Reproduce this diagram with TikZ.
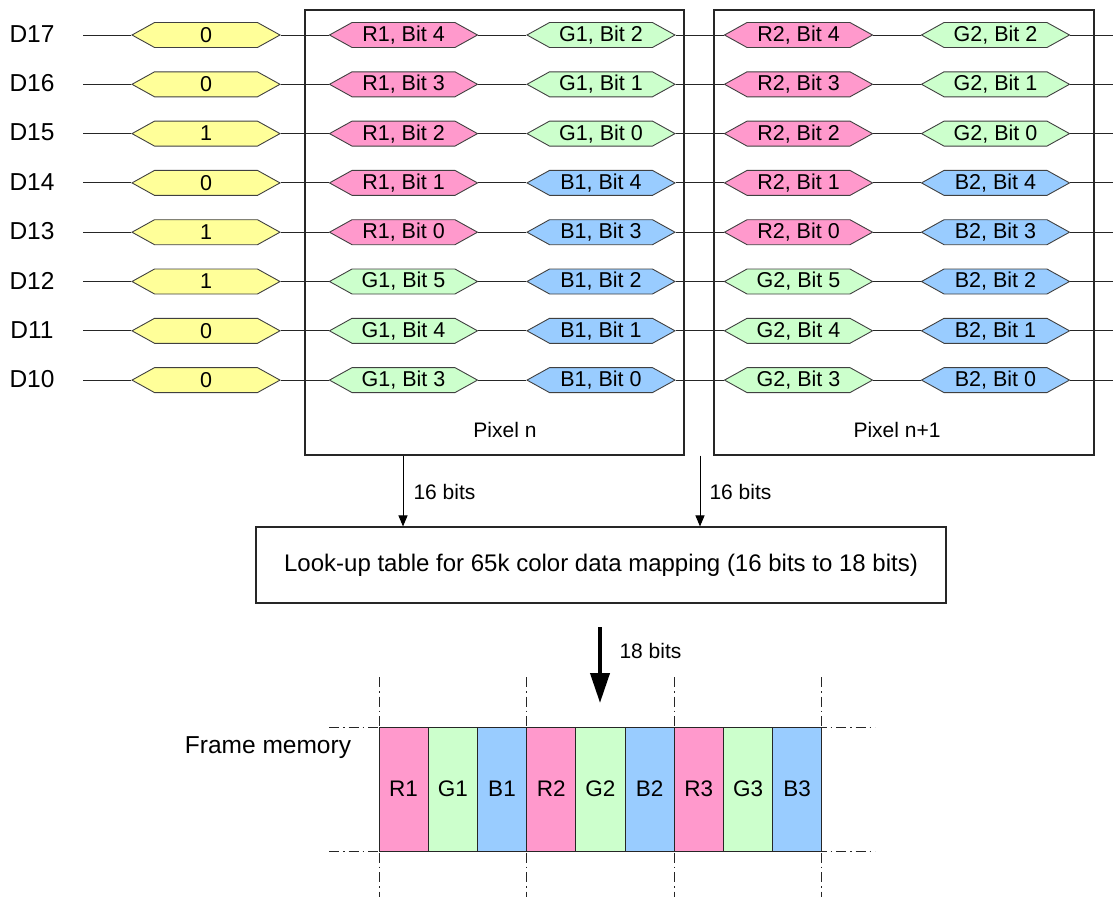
\documentclass[tikz,border=0pt]{standalone}
\usepackage{fontspec}
\setmainfont{Liberation Sans}
\usetikzlibrary{shapes.symbols,arrows.meta}
\definecolor{cy}{HTML}{FFFF99}
\definecolor{cp}{HTML}{FF99CC}
\definecolor{cg}{HTML}{CCFFCC}
\definecolor{cb}{HTML}{99CCFF}
\begin{document}
\begin{tikzpicture}[x=1pt,y=-1pt,
  hexbox/.style={signal, signal to=west and east, signal pointer angle=58,
    draw=black!75, line width=0.9pt, minimum width=148pt, minimum height=25pt,
    inner sep=0pt, font=\fontsize{21.5}{24}\selectfont},
  wire/.style={line width=1pt, draw=black!85},
  frame/.style={draw=black!85, line width=1.1pt},
  lbl/.style={font=\fontsize{24.5}{28}\selectfont},
  small/.style={font=\fontsize{21}{24}\selectfont},
  arr/.style={line width=1pt, -{Triangle[length=11pt,width=9pt]}},
  cell/.style={draw=black!85, line width=1pt, minimum width=49.2pt, minimum height=124pt,
    inner sep=0pt, font=\fontsize{22.5}{26}\selectfont},
  dd/.style={line width=0.9pt, draw=black!85, dash pattern=on 10pt off 4pt on 1.5pt off 4pt}]
\useasboundingbox (0,0) rectangle (1113,897);
% pixel boxes
\node[frame, minimum width=379pt, minimum height=445pt, inner sep=0pt] (pixn) at (494.5,232.5) {};
\node[frame, minimum width=380pt, minimum height=445pt, inner sep=0pt] (pixm) at (904,232.5) {};
\node[small] (pixnl) at (505,430) {Pixel n};
\node[small] (pixml) at (897,430) {Pixel n+1};
% rows
\foreach \i/\d/\v/\ca/\a/\ba/\cbb/\b/\bb in {
  0/17/0/cp/R/4/cg/G/2,
  1/16/0/cp/R/3/cg/G/1,
  2/15/1/cp/R/2/cg/G/0,
  3/14/0/cp/R/1/cb/B/4,
  4/13/1/cp/R/0/cb/B/3,
  5/12/1/cg/G/5/cb/B/2,
  6/11/0/cg/G/4/cb/B/1,
  7/10/0/cg/G/3/cb/B/0}{
  \pgfmathsetmacro\yy{35+\i*49.3}
  \node[lbl] (lab\i) at (32,\yy-1) {D\d};
  \coordinate (s\i) at (83,\yy);
  \coordinate (e\i) at (1113,\yy);
  \node[hexbox, fill=cy] (v\i) at (206,\yy) {\v};
  \node[hexbox, fill=\ca] (a\i) at (403.5,\yy) {\a1, Bit \ba};
  \node[hexbox, fill=\cbb] (b\i) at (601,\yy) {\b1, Bit \bb};
  \node[hexbox, fill=\ca] (c\i) at (798.5,\yy) {\a2, Bit \ba};
  \node[hexbox, fill=\cbb] (d\i) at (995.5,\yy) {\b2, Bit \bb};
  \draw[wire] (s\i) -- (v\i.west);
  \draw[wire] (v\i.east) -- (a\i.west);
  \draw[wire] (a\i.east) -- (b\i.west);
  \draw[wire] (b\i.east) -- (c\i.west);
  \draw[wire] (c\i.east) -- (d\i.west);
  \draw[wire] (d\i.east) -- (e\i);
}
% LUT
\node[frame, minimum width=690pt, minimum height=76pt, inner sep=0pt,
  font=\fontsize{24}{28}\selectfont] (lut) at (601,565)
  {Look-up table for 65k color data mapping (16 bits to 18 bits)};
\draw[arr] (403,0 |- pixn.south) -- (403,0 |- lut.north);
\draw[arr] (700,0 |- pixm.south) -- (700,0 |- lut.north);
\node[small, anchor=west] (l16a) at (410,492) {16 bits};
\node[small, anchor=west] (l16b) at (706,492) {16 bits};
% 18 bits arrow
\coordinate (t1) at (600,627);
\coordinate (t2) at (600,703);
\draw[line width=4pt, -{Triangle[length=30pt,width=19pt]}] (t1) -- (t2);
\node[small, anchor=west] (l18) at (616,651) {18 bits};
% frame memory
\foreach \x in {379,526.6,674.2,821.8}{
  \draw[dd] (\x,677) -- (\x,897);
}
\draw[dd] (329,727) -- (875,727);
\draw[dd] (329,851) -- (875,851);
\foreach \k/\t/\c in {0/R1/cp,1/G1/cg,2/B1/cb,3/R2/cp,4/G2/cg,5/B2/cb,6/R3/cp,7/G3/cg,8/B3/cb}{
  \node[cell, fill=\c] (m\k) at (403.6+\k*49.2,789) {\t};
}
\node[lbl] (fm) at (268,748) {Frame memory};
\end{tikzpicture}
\end{document}
